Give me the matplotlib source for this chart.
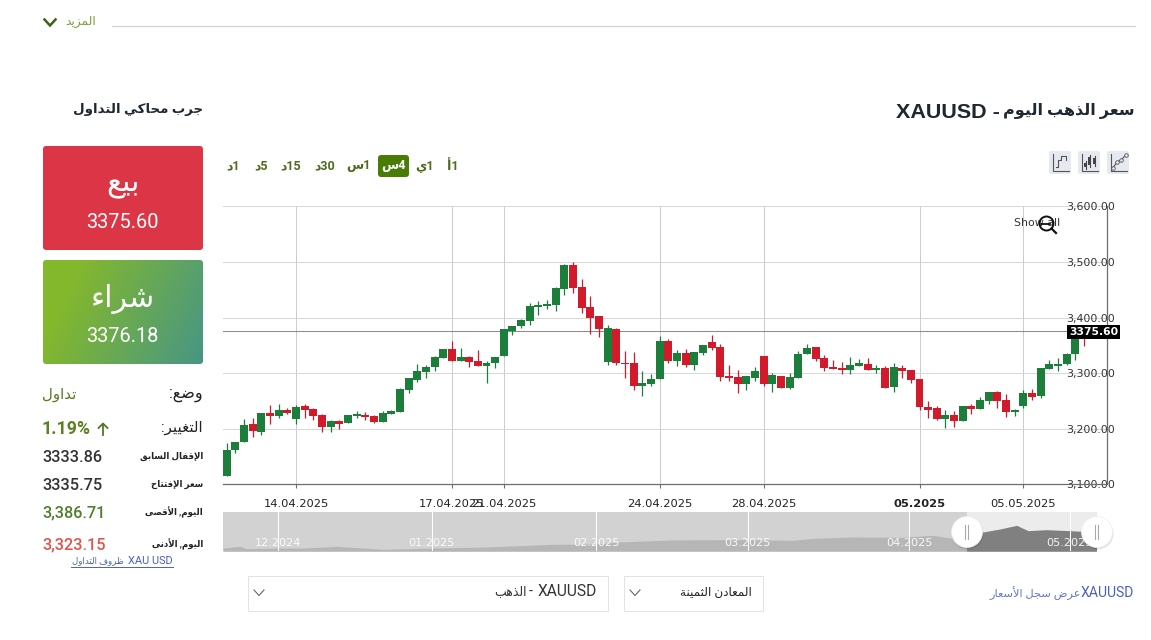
import numpy as np
import matplotlib
matplotlib.use("Agg")
import matplotlib.pyplot as plt
from matplotlib.patches import FancyBboxPatch, Rectangle, Circle

W, H = 1151, 640

# ---- data -------------------------------------------------------------
opens = [3115.2,3161.4,3175.8,3208.2,3193.8,3228,3222.6,3233.4,3217.2,3240.6,
 3235.2,3224.4,3202.8,3213.6,3210,3222.6,3224.4,3222.6,3211.8,3226.2,
 3229.8,3269.4,3287.4,3301.8,3310.8,3327,3343.2,3321.6,3328.8,3321.6,
 3312.6,3318,3330.6,3375.6,3384.6,3393.6,3418.8,3420.6,3422.4,3451.2,
 3494.4,3454.8,3418.8,3402.6,3319.8,3379.2,3319.2,3318,3276.6,3280.2,
 3289.2,3357.6,3321.6,3336,3314.4,3336,3355.8,3346.8,3294.6,3292.8,
 3280.2,3291,3330.6,3280.2,3294.6,3273,3291,3334.2,3346.8,3327,
 3310.8,3309,3305.4,3312.6,3316.2,3305.4,3309,3274.8,3309,3305.4,
 3289.2,3238.8,3237,3217.2,3224.4,3213.6,3240.6,3235.2,3249.6,3265.8,
 3251.4,3229.8,3240.6,3264,3258.6,3307.2,3313.2,3316.2,3334.2,3378]
highs = [3175,3175.8,3218.4,3220.2,3228,3243.6,3245.4,3238.2,3243.6,3245.4,
 3238.2,3227.4,3215.4,3215.4,3224.4,3232.8,3231,3224.4,3231.6,3233.4,
 3274.2,3291,3317.4,3315,3331.8,3343.2,3357.6,3345,3331.8,3342.6,
 3321.6,3328.8,3379.2,3384.6,3397.2,3426.6,3430.2,3431.4,3455.4,3495.6,
 3499.8,3468.6,3438,3402.6,3385.8,3380.4,3340.8,3339,3304.8,3298.2,
 3367.2,3362.4,3342.6,3344.4,3337.8,3350.4,3369.6,3352.8,3314.4,3306.6,
 3294.6,3312,3330.6,3300.6,3295.8,3301.2,3340.2,3353.4,3346.8,3333.6,
 3324.6,3321,3330,3325.2,3328.2,3314.4,3313.8,3318.6,3314.4,3305.4,
 3289.2,3250.8,3241.8,3233.4,3231.6,3240.6,3244.2,3257.4,3267,3268.2,
 3263.4,3235.2,3270.6,3272.4,3309,3323.4,3327.6,3336.6,3376,3386.7]
lows = [3115.2,3156.6,3175.8,3185.4,3188.4,3208.2,3220.2,3226.8,3209.4,3220.2,
 3215.4,3193.8,3195,3199.8,3210,3219,3216.6,3211.2,3211.8,3226.2,
 3229.8,3265.2,3284.4,3291.6,3304.2,3327,3321.6,3321.6,3311.4,3312.6,
 3282.6,3310.2,3330.6,3369.6,3381,3385.8,3405,3415.8,3411.6,3441,
 3443.4,3408.6,3371.4,3365.4,3315,3315,3292.2,3269.4,3259.8,3277.8,
 3289.2,3318,3313.2,3311.4,3306,3333.6,3342.6,3286.2,3286.8,3264.6,
 3270,3286.8,3277.8,3266.4,3273,3271.8,3291,3334.2,3322.2,3304.2,
 3307.2,3299.4,3299.4,3312.6,3305.4,3300.6,3273,3266.4,3292.2,3282.6,
 3234.6,3220.2,3215.4,3202.2,3203.4,3213.6,3227.4,3235.2,3245.4,3238.2,
 3221.4,3223.2,3237,3252.6,3256.2,3307.2,3304.8,3314.4,3323.4,3349.2]
closes = [3161.4,3175.8,3206.4,3195.6,3228,3222.6,3233.4,3228,3238.8,3233.4,
 3222.6,3202.8,3213.6,3208.2,3224.4,3226.2,3220.8,3211.8,3228,3232.2,
 3271.2,3291,3303.6,3310.8,3328.8,3343.2,3321.6,3328.8,3319.8,3312.6,
 3318,3328.8,3379.2,3384.6,3395.4,3420.6,3422.4,3424.2,3453,3494.4,
 3453,3417,3399,3379.2,3381,3318,3316.2,3276.6,3282,3289.2,
 3357.6,3321.6,3336,3314.4,3337.8,3350.4,3345,3292.8,3291,3280.2,
 3294.6,3303.6,3280.2,3296.4,3273,3292.8,3334.2,3345,3325.2,3309,
 3307.2,3305.4,3314.4,3318,3305.4,3309,3273,3310.8,3303.6,3287.4,
 3238.8,3233.4,3217.2,3224.4,3213.6,3240.6,3235.2,3251.4,3265.8,3249.6,
 3229.8,3233.4,3264,3256.8,3309,3316.2,3316.2,3334.2,3372,3375.6]

date_ticks = [8, 26, 32, 50, 62, 80, 92]
date_labels = ["14.04.2025","17.04.2025","21.04.2025","24.04.2025","28.04.2025","05.2025","05.05.2025"]
price_ticks = [3100, 3200, 3300, 3400, 3500, 3600]
current_price = 3375.60

nav_days = [-11.1,-7.7,-6.4,-0.3,5,11.8,19.2,21.2,31.3,42,55.4,64.2,68.9,79,89,94.4,103.8,
            107.9,115.3,125.3,132.1,135.4,138.8,142.1,145.5,148.9,151.2,154.9,159.6,162.3,165]
nav_price = [2580,2648,2554,2580,2580,2648,2554,2527,2580,2621,2729,2742,2824,2905,2918,2918,2891,
             2972,3026,3013,3094,2986,3148,3229,3350,3499,3283,3323,3283,3256,3323]
nav_ticks = [0, 31, 64.1, 94.7, 127.2, 159.6]
nav_labels = ["12.2024","01.2025","02.2025","03.2025","04.2025","05.2025"]
nav_selected_from = 138.8

sell_price = "3375.60"
buy_price = "3376.18"
change_pct = "1.19%"
prev_close = "3333.86"
open_price = "3335.75"
day_high = "3,386.71"
day_low = "3,323.15"
timeframes = [("أ", "1"), ("ي", "1"), ("س", "4"), ("س", "1"), ("د", "30"), ("د", "15"), ("د", "5"), ("د", "1")]

# ---- Arabic shaping (matplotlib draws glyphs left to right, unjoined) ---
_four = dict(zip("ئبتثجحخسشصضطظعغفقكلمنهي",
    [0xFE89,0xFE8F,0xFE95,0xFE99,0xFE9D,0xFEA1,0xFEA5,0xFEB1,0xFEB5,0xFEB9,0xFEBD,
     0xFEC1,0xFEC5,0xFEC9,0xFECD,0xFED1,0xFED5,0xFED9,0xFEDD,0xFEE1,0xFEE5,0xFEE9,0xFEF1]))
_two = dict(zip("آأؤإاةدذرزوى",
    [0xFE81,0xFE83,0xFE85,0xFE87,0xFE8D,0xFE93,0xFEA9,0xFEAB,0xFEAD,0xFEAF,0xFEED,0xFEEF]))
_lamalef = {"آ":0xFEF5, "أ":0xFEF7, "إ":0xFEF9, "ا":0xFEFB}

def ar(text):
    out, i, n = [], 0, len(text)
    while i < n:
        c = text[i]
        nxt = text[i+1] if i+1 < n else ""
        jp = i > 0 and text[i-1] in _four
        if c == "ل" and nxt and nxt in _lamalef:
            out.append(chr(_lamalef[nxt] + (1 if jp else 0)))
            i += 2
            continue
        if c in _four:
            jn = bool(nxt) and (nxt in _four or nxt in _two)
            out.append(chr(_four[c] + (3 if jp and jn else 1 if jp else 2 if jn else 0)))
        elif c in _two:
            out.append(chr(_two[c] + (1 if jp else 0)))
        elif c == "ء":
            out.append(chr(0xFE80))
        else:
            out.append(c)
        i += 1
    return "".join(out)[::-1]

# ---- figure -------------------------------------------------------------
plt.rcParams["font.family"] = ["DejaVu Sans"]
RB = ["Roboto", "DejaVu Sans"]
LB = ["Liberation Sans", "DejaVu Sans"]
fig = plt.figure(figsize=(W/100, H/100), dpi=100, facecolor="white")

def box(l, t, r, b):
    return [l/W, 1-b/H, (r-l)/W, (b-t)/H]

def px(p):
    return p*0.72

# main chart
L, R, T, B = 223, 1106.5, 206.4, 484.4
ax = fig.add_axes(box(L, T, R, B))
ax.set_facecolor("none")
STEP = 8.66
ax.set_xlim((L-226.7)/STEP, (R-226.7)/STEP)
ax.set_ylim(3100, 3600)
idx = np.arange(len(opens))
o, h, l, c = map(np.array, (opens, highs, lows, closes))
cols = np.where(c >= o, "#1b7f3b", "#d31a2b")
ax.set_axisbelow(True)
ax.grid(True, axis="y", color="#d8d8d8", lw=0.75)
ax.grid(True, axis="x", color="#cccccc", lw=0.75)
ax.axhline(current_price, color="#8c8c8c", lw=0.75, zorder=1.5)
ax.vlines(idx, l, h, colors=cols, lw=0.9, zorder=2)
ax.bar(idx, np.abs(c-o), bottom=np.minimum(o, c), width=0.92, color=cols, zorder=3, linewidth=0)
for s in ("top", "left"):
    ax.spines[s].set_visible(False)
for s in ("bottom", "right"):
    ax.spines[s].set_color("#6e6e6e")
    ax.spines[s].set_linewidth(0.9)
ax.set_xticks(date_ticks)
ax.set_xticklabels(date_labels)
ax.get_xticklabels()[5].set_fontweight("bold")
ax.set_yticks(price_ticks)
ax.set_yticklabels([f"{v:,.2f}" for v in price_ticks])
ax.yaxis.tick_right()
ax.tick_params(axis="x", length=3.2, width=0.8, color="#6e6e6e", pad=7.5, labelsize=px(11.5), labelcolor="#222222")
ax.tick_params(axis="y", length=0, pad=6.2, labelsize=px(11), labelcolor="#333333")
for t in ax.get_yticklabels():
    t.set_ha("right")
ax.annotate(f"{current_price:.2f}", xy=(1.0, current_price), xycoords=ax.get_yaxis_transform(),
            xytext=(-13*0.72, -0.4), textcoords="offset points", ha="center", va="center",
            fontsize=px(10.8), fontweight="bold", color="white", zorder=20,
            bbox=dict(boxstyle="square,pad=0.2", fc="black", ec="none"), annotation_clip=False)

# navigator
nav = fig.add_axes(box(223, 511.5, 1097, 551.3))
nav.set_xlim(-11.1, 165.1)
NTOP = 2447 + 39.8*40.5
nav.set_ylim(2447, NTOP)
nav.set_facecolor("#d2d2d2")
nav.axvspan(nav_selected_from, 165.1, color="#ececec", lw=0, zorder=0.5)
nd, np_ = np.array(nav_days), np.array(nav_price)
nav.fill_between(nd, 2447, np_, where=nd <= nav_selected_from, color="#b6b6b6", lw=0, zorder=1)
nav.fill_between(nd, 2447, np_, where=nd >= nav_selected_from, color="#808080", lw=0, zorder=1.1)
nav.vlines(nav_ticks, 2447, NTOP, colors="white", lw=0.75, zorder=2)
for xt, lab in zip(nav_ticks, nav_labels):
    nav.text(xt, 0.22, lab, transform=nav.get_xaxis_transform(), ha="center", va="center",
             color="white", fontsize=px(11.3), alpha=0.9, zorder=3)
nav.set_xticks([]); nav.set_yticks([])
for s in nav.spines.values():
    s.set_visible(False)

# page furniture overlay (pixel coordinates)
ui = fig.add_axes([0, 0, 1, 1], zorder=5)
ui.set_xlim(0, W); ui.set_ylim(H, 0)
ui.axis("off"); ui.patch.set_alpha(0)

def txt(x, y, s, size, color="#222222", ha="right", weight="normal", fam=None, **kw):
    return ui.text(x, y, s, fontsize=px(size), color=color, ha=ha, va="center",
                   fontweight=weight, family=fam or RB, **kw)

# top
ui.plot([112, 1135], [25.5, 25.5], color="#d0d0d0", lw=0.8)
ui.plot([44.5, 50, 55.5], [19.5, 25.5, 19.5], color="#3f6212", lw=1.8, solid_joinstyle="miter")
txt(96, 21, ar("المزيد"), 12.3, "#7c9a3c")

# headings
txt(1000, 112, "XAUUSD -", 21.5, "#1f2730", weight="bold", fam=LB)
txt(1135, 111, ar("سعر الذهب اليوم"), 16, "#1f2730", weight="bold")
txt(203, 109, ar("جرب محاكي التداول"), 13.4, "#1f2730", weight="bold")

# sell / buy
ui.add_patch(FancyBboxPatch((45, 148), 156, 100, boxstyle="round,pad=2,rounding_size=3",
                            fc="#dc3546", ec="none"))
nx, ny = 200, 100
gx, gy = np.meshgrid(np.linspace(0, 1, nx), np.linspace(0, 1, ny))
t = np.clip((0.85*gx + 0.25*gy - 0.2) / 0.9, 0, 1)[..., None]
c0, c1 = np.array([0x84, 0xB8, 0x2C])/255, np.array([0x47, 0x96, 0x85])/255
img = ui.imshow(c0*(1-t) + c1*t, extent=(43, 203, 364, 260), aspect="auto", zorder=1)
clip = FancyBboxPatch((45, 262), 156, 100, boxstyle="round,pad=2,rounding_size=3",
                      fc="none", ec="none", transform=ui.transData)
ui.add_patch(clip)
img.set_clip_path(clip)
ui.set_xlim(0, W); ui.set_ylim(H, 0)
txt(123, 185, ar("بيع"), 30, "white", ha="center", zorder=3)
txt(122.5, 222, sell_price, 20, "white", ha="center", zorder=3)
txt(123, 299, ar("شراء"), 30, "white", ha="center", zorder=3)
txt(122.5, 336, buy_price, 20, "white", ha="center", zorder=3)

# info rows
txt(203, 395, ar("وضع:"), 16, "#222222")
txt(42, 395, ar("تداول"), 15, "#5d7a22", ha="left")
txt(203, 428, ar("التغيير:"), 15, "#222222")
txt(42, 429, change_pct, 17.7, "#5a8020", ha="left", weight="bold", fam=RB)
ui.plot([103, 103], [434.5, 423.5], color="#4d7a1f", lw=1.3)
ui.plot([98.5, 103, 107.5], [428, 423.5, 428], color="#4d7a1f", lw=1.3)
rows = [(456, "الإقفال السابق", prev_close, "#333333"),
        (484, "سعر الإفتتاح", open_price, "#333333"),
        (512, "اليوم, الأقصى", day_high, "#4f7f2a"),
        (544, "اليوم, الأدنى", day_low, "#e0544e")]
for y, lab, val, col in rows:
    txt(203, y, ar(lab), 8.6, "#222222", weight="bold")
    txt(42, y+1, val, 16.3, col, ha="left", weight="medium", fam=["Roboto"])
txt(173, 561, "XAU USD", 11, "#4a5fc1", fam=RB)
txt(124, 561, ar("ظروف التداول"), 8.6, "#4a5fc1")
ui.plot([71, 173], [567, 567], color="#4a5fc1", lw=0.7)

# timeframe buttons
tf_x = [453, 425, 393.5, 358, 325, 291, 261, 233]
ui.add_patch(FancyBboxPatch((380, 157), 27, 18, boxstyle="round,pad=2,rounding_size=3",
                            fc="#487c05", ec="none", zorder=1))
for i, ((let, num), xc) in enumerate(zip(timeframes, tf_x)):
    col = "white" if i == 2 else "#4f6b1c"
    txt(xc, 166, ar(let) + num, 12.5, col, ha="center", weight="bold", zorder=3)

# chart type icons
for x0, kind in zip((1049, 1078, 1107), ("step", "candle", "line")):
    ui.add_patch(FancyBboxPatch((x0+2, 153), 18, 19, boxstyle="round,pad=2,rounding_size=2",
                                fc="#e6eaf0", ec="none", zorder=1))
    ui.plot([x0+4, x0+4, x0+20], [154, 171, 171], color="#555555", lw=0.8, zorder=2)
    if kind == "step":
        ui.plot([x0+7, x0+9, x0+9, x0+12, x0+12, x0+17, x0+17], [167, 167, 160, 160, 156, 156, 160],
                color="#555555", lw=0.8, zorder=2)
    elif kind == "candle":
        for dx, a, b in ((8, 161, 169), (12, 155, 167), (17, 156, 166)):
            ui.plot([x0+dx, x0+dx], [a, b], color="#444444", lw=0.8, zorder=2)
            ui.add_patch(Rectangle((x0+dx-1.5, a+2), 3, b-a-4, fc="#444444", ec="none", zorder=2))
    else:
        ui.plot([x0+6, x0+10, x0+14, x0+19], [168, 162, 160, 155], color="#555555", lw=0.8, zorder=2,
                marker="o", ms=2.6, mfc="#e6eaf0", mec="#555555", mew=0.6)

# Show all
txt(1037, 223, "Show all", 11, "#333333", ha="center", fam=["DejaVu Sans"])
ui.add_patch(Circle((1046.5, 223.5), 7, fc="none", ec="#111111", lw=1.4, zorder=3))
ui.plot([1051.5, 1056], [228.5, 233], color="#111111", lw=1.6, zorder=3)
ui.plot([1042.5, 1050.5], [223.5, 223.5], color="#111111", lw=1.3, zorder=3)

# navigator handles
for cx in (967, 1097):
    ui.add_patch(Circle((cx+0.6, 533.5), 16, fc="#000000", alpha=0.10, ec="none", zorder=3))
    ui.add_patch(Circle((cx, 532), 15.5, fc="white", ec="#eeeeee", lw=0.5, zorder=4))
    for dx in (-1.5, 1.5):
        ui.plot([cx+dx, cx+dx], [525, 539], color="#aaaaaa", lw=0.8, zorder=5)

# selectors
for l_, r_ in ((248, 609), (624, 764)):
    ui.add_patch(Rectangle((l_+.5, 575.5), r_-l_-1, 35, fc="white", ec="#e3e3e3", lw=0.75))
    cx = l_ + 11
    ui.plot([cx-5, cx, cx+5], [590, 595.5, 590], color="#666666", lw=0.8)
txt(597, 592, "XAUUSD", 15.5, "#333333")
txt(533, 592, "-", 14, "#333333")
txt(527, 592, ar("الذهب"), 12.5, "#333333")
txt(752, 592, ar("المعادن الثمينة"), 12, "#222222")
txt(1134, 593, "XAUUSD", 14, "#4a5fc1")
txt(1081, 593, ar("عرض سجل الأسعار"), 11.4, "#6678c8")

fig.savefig("out.png", dpi=100, facecolor="white")
